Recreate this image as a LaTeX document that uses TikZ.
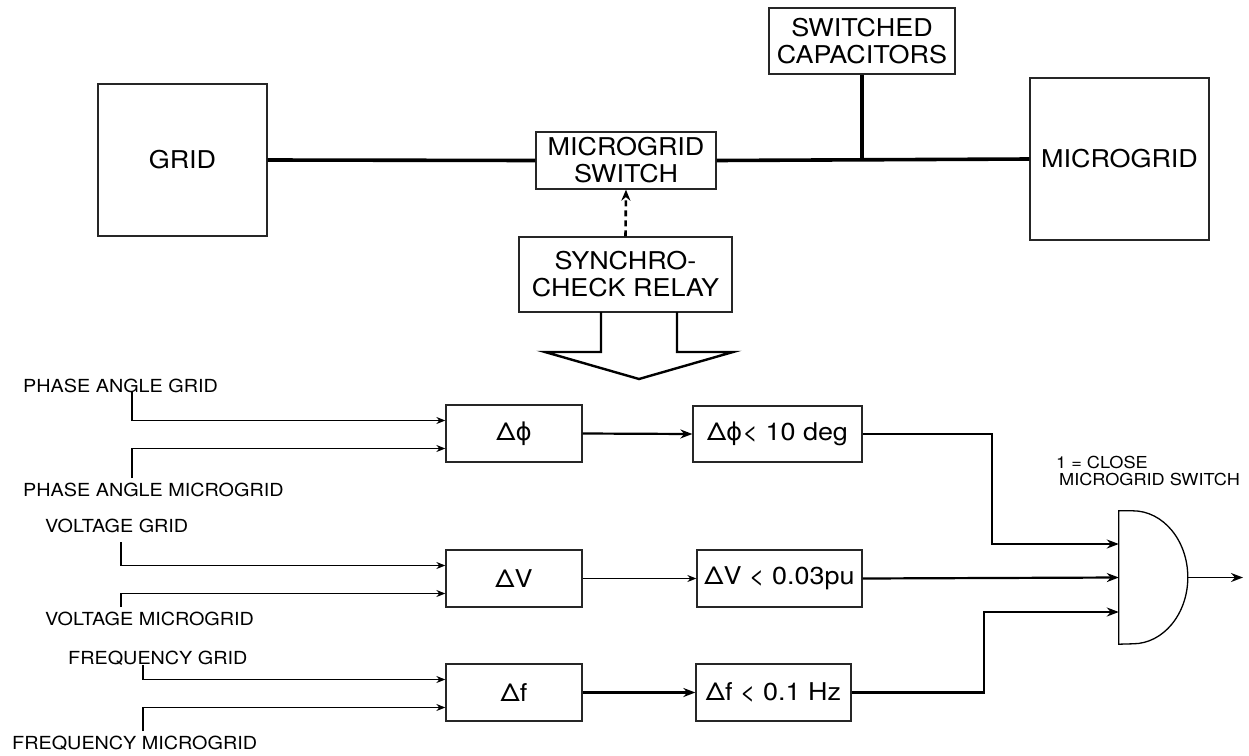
\documentclass[tikz,border=0pt]{standalone}
\usepackage{fontspec}
\setmainfont{TeX Gyre Heros}[FakeStretch=1.1]
\newfontfamily\phifont{DejaVu Sans}
\usetikzlibrary{arrows.meta}

\newcommand{\dphi}{Δ{\phifont ϕ}}

\tikzset{
  block/.style={draw=black!85, line width=1.3pt, inner sep=0pt, align=center,
    font=\fontsize{24.5}{27}\selectfont},
  bus/.style={line width=3.6pt},
  sig/.style={line width=1.2pt, -{Stealth[length=9pt,width=7pt]}},
  sigthick/.style={line width=2.2pt, -{Stealth[length=12pt,width=9pt]}},
  inlabel/.style={anchor=west, inner sep=0pt, font=\fontsize{18}{20}\selectfont},
}

\begin{document}
\begin{tikzpicture}[x=1pt, y=-1pt]
    \useasboundingbox (0,0) rectangle (1249,755);

    % Power side
    \node[block, minimum width=169pt, minimum height=152pt] (grid) at (182.5,160) {GRID};
    \node[block, minimum width=180pt, minimum height=57pt] (msw) at (626,160.5) {MICROGRID\\SWITCH};
    \node[block, minimum width=186pt, minimum height=66pt] (cap) at (862,41) {SWITCHED\\CAPACITORS};
    \node[block, minimum width=179pt, minimum height=162pt] (mgrid) at (1119.5,159) {MICROGRID};
    \node[block, minimum width=213pt, minimum height=75pt] (sync) at (625.5,274.5) {SYNCHRO-\\CHECK RELAY};

    \draw[bus] (grid.east) -- (msw.west);
    \draw[bus] (msw.east) -- (mgrid.west);
    \draw[bus] (cap.south) -- (cap.south |- msw.east);
    \draw[line width=2.6pt, dash pattern=on 6pt off 4pt,
          -{Stealth[length=11pt,width=9pt]}] (sync.north) -- (msw.south);

    % Hollow arrow under the relay
    \draw[line width=2.4pt, line join=miter] (601,312) -- (601,352) -- (545,352) -- (639,379)
        -- (733,352) -- (677,352) -- (677,312);

    % Difference blocks
    \node[block, minimum width=136pt, minimum height=57pt] (dphi) at (514,433.5) {\dphi};
    \node[block, minimum width=136pt, minimum height=57pt] (dv) at (514,578.5) {ΔV};
    \node[block, minimum width=136pt, minimum height=57pt] (df) at (514,692.5) {Δf};

    % Limit checks
    \node[block, minimum width=169pt, minimum height=56pt] (tphi) at (777.5,434) {\dphi< 10 deg};
    \node[block, minimum width=165pt, minimum height=57pt] (tv) at (779.5,578.5) {ΔV < 0.03pu};
    \node[block, minimum width=155pt, minimum height=57pt] (tf) at (773.5,692.5) {Δf < 0.1 Hz};

    \draw[sigthick] (dphi.east) -- (tphi.west);
    \draw[sig] (dv.east) -- (tv.west);
    \draw[sigthick] (df.east) -- (tf.west);

    % Measured inputs
    \node[inlabel] (pag) at (23,386) {PHASE ANGLE GRID};
    \node[inlabel] (pam) at (23,490) {PHASE ANGLE MICROGRID};
    \node[inlabel] (vg) at (45,526) {VOLTAGE GRID};
    \node[inlabel] (vm) at (45,619) {VOLTAGE MICROGRID};
    \node[inlabel] (fg) at (68,658) {FREQUENCY GRID};
    \node[inlabel] (fm) at (12,743) {FREQUENCY MICROGRID};

    \coordinate (pag-f) at (132,392);
    \coordinate (pam-f) at (132,478);
    \coordinate (vg-f) at (121,542);
    \coordinate (vm-f) at (121,607);
    \coordinate (fg-f) at (143,665);
    \coordinate (fm-f) at (143,731);

    \foreach \ina/\inb/\blk in {pag/pam/dphi, vg/vm/dv, fg/fm/df} {
        \draw[sig] (\ina-f) |- ([yshift=13pt]\blk.west);
        \draw[sig] (\inb-f) |- ([yshift=-15pt]\blk.west);
    }

    % AND gate
    \node[minimum width=69pt, minimum height=133pt, inner sep=0pt] (gate) at (1153.5,577.5) {};
    \draw[line width=1.3pt] (gate.south west) -- (gate.north west) -- ++(14,0)
        arc[start angle=90, end angle=-90, x radius=55pt, y radius=66.5pt] -- cycle;
    \coordinate (gin1) at ([yshift=33.5pt]gate.west);
    \coordinate (gin3) at ([yshift=-34.5pt]gate.west);
    \coordinate (bend1) at (992,0);
    \coordinate (bend3) at (984,0);
    \coordinate (out) at (1243,577.5);

    \draw[sigthick] (tphi.east) -| (bend1 |- gin1) -- (gin1);
    \draw[sigthick] (tv.east) -- (gate.west);
    \draw[sigthick] (tf.east) -| (bend3 |- gin3) -- (gin3);
    \draw[sigthick, line width=1.6pt] (gate.east) -- (out);

    \node[anchor=west, align=left, inner sep=0pt, font=\fontsize{16.5}{17}\selectfont]
        (gatelbl) at (1056,470.5) {1 = CLOSE\\\hspace*{3pt}MICROGRID SWITCH};
\end{tikzpicture}
\end{document}
